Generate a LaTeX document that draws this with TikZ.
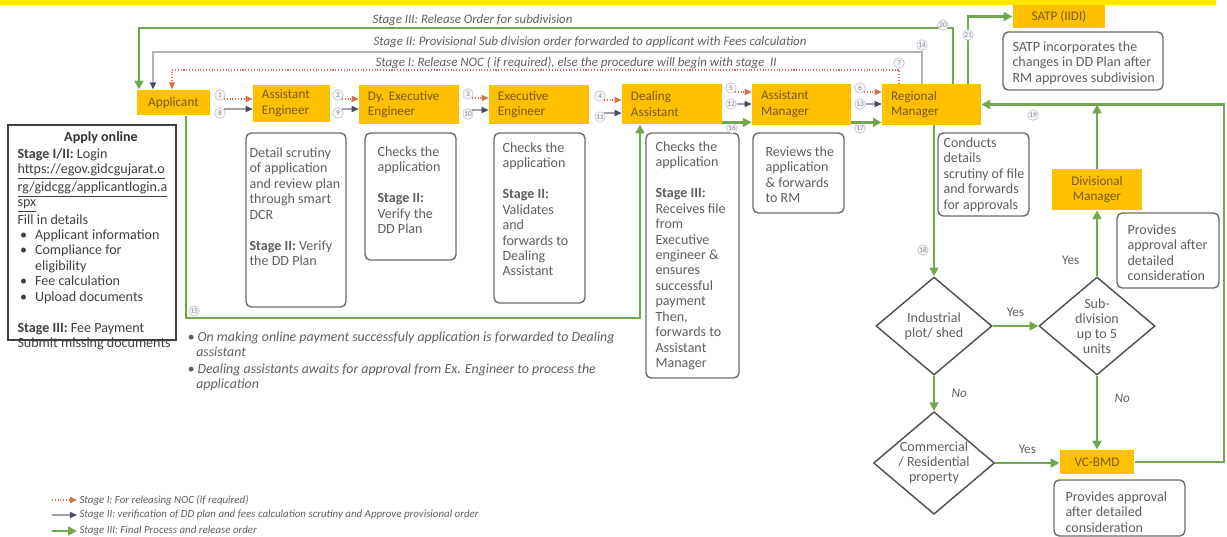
\documentclass[tikz,border=0pt]{standalone}
\usepackage{fontspec}
\setmainfont{Carlito}
\usetikzlibrary{shapes.geometric}
\usetikzlibrary{arrows.meta}

\definecolor{hdyellow}{RGB}{255,230,0}
\definecolor{boxorange}{RGB}{255,192,0}
\definecolor{boxtext}{RGB}{120,88,20}
\definecolor{txtgray}{RGB}{95,95,95}
\definecolor{stgone}{RGB}{214,110,80}
\definecolor{stgtwo}{RGB}{160,160,168}
\definecolor{stgtwotip}{RGB}{80,72,100}
\definecolor{stgthree}{RGB}{112,168,80}

\begin{document}
\begin{tikzpicture}[x=0.02cm, y=-0.02cm, line width=0.6pt,
    orng/.style={fill=boxorange, text=boxtext, inner xsep=5pt, inner ysep=2pt, align=left, font=\fontsize{7.5}{9}\selectfont},
    desc/.style={anchor=north west, inner sep=0pt, align=left, text=txtgray, font=\fontsize{8}{8.8}\selectfont},
    descframe/.style={draw=gray!85!black, rounded corners=3pt, line width=0.8pt},
    ask/.style={diamond, draw=black!70, line width=0.8pt, aspect=1.18, inner sep=0pt, minimum width=2.32cm, minimum height=1.96cm, align=center, text=txtgray, font=\fontsize{8}{8.6}\selectfont},
    num/.style={circle, draw=gray!45, fill=blue!3, line width=0.4pt, inner sep=0pt, minimum size=6pt, text=gray, font=\fontsize{4.2}{4.5}\selectfont},
    lbl/.style={text=txtgray, font=\fontsize{7.5}{9}\selectfont},
    stg/.style={anchor=west, inner sep=0pt, text=txtgray, font=\fontsize{7.35}{8}\selectfont\itshape},
    stone/.style={draw=stgone, densely dotted, -{Triangle[length=4pt, width=3.5pt, color=stgone]}},
    sttwo/.style={draw=stgtwo, -{Triangle[length=4pt, width=3.5pt, color=stgtwotip]}},
    stthree/.style={draw=stgthree, line width=1.5pt, -{Triangle[length=5pt, width=5pt]}}]

    \useasboundingbox (0,0) rectangle (1227,537);
    \fill[hdyellow] (0,0) rectangle (1216,5);

    % draw orange boxes
    \node[orng, align=center, minimum width=1.46cm, minimum height=14.2pt] (app) at (173.5,102.5) {Applicant};
    \node[orng, text width=33.6pt, minimum height=21pt] (ae) at (291.5,103.5) {Assistant\\Engineer};
    \node[orng, text width=46.7pt, minimum height=22.1pt] (dyee) at (409,104.5) {Dy.\ Executive\\Engineer};
    \node[orng, text width=46.7pt, minimum height=22.1pt] (ee) at (539,104.5) {Executive\\Engineer};
    \node[orng, text width=46.7pt, minimum height=22.7pt] (da) at (672,104) {Dealing\\Assistant};
    \node[orng, text width=46.1pt, minimum height=23.2pt] (am) at (801.5,104.5) {Assistant\\Manager};
    \node[orng, text width=46.1pt, minimum height=23.2pt] (rm) at (931.5,104.5) {Regional\\Manager};
    \node[orng, align=center, minimum width=1.84cm, minimum height=13pt] (satp) at (1059,16.5) {SATP (IIDI)};
    \node[orng, align=center, minimum width=1.8cm, minimum height=23.2pt] (dm) at (1097,189.5) {Divisional\\Manager};
    \node[orng, align=center, minimum width=1.48cm, minimum height=13.6pt] (vc) at (1097,462) {VC-BMD};

    % draw decisions
    \node[ask] (ind) at (934,326) {Industrial\\plot/ shed};
    \node[ask] (sub) at (1097,326) {Sub-\\division\\up to 5\\units};
    \node[ask] (com) at (934,463) {Commercial\\/ Residential\\property};

    % draw apply online box
    \draw[draw=black!75, line width=0.9pt] (8,125) rectangle (176,340);
    \node[desc, anchor=center, text=black!80] (applyhead) at (101,138) {\textbf{Apply online}};
    \node[desc, text=black!75] (apply) at (17,148) {\textbf{Stage I/II:} Login\\
        \underline{https://egov.gidcgujarat.o}\\
        \underline{rg/gidcgg/applicantlogin.a}\\
        \underline{spx}\\
        Fill in details\\
        \makebox[10pt][l]{\hspace{1.5pt}\textbullet}Applicant information\\
        \makebox[10pt][l]{\hspace{1.5pt}\textbullet}Compliance for\\
        \hspace*{10pt}eligibility\\
        \makebox[10pt][l]{\hspace{1.5pt}\textbullet}Fee calculation\\
        \makebox[10pt][l]{\hspace{1.5pt}\textbullet}Upload documents\\[8.8pt]
        \textbf{Stage III:} Fee Payment\\
        Submit missing documents};

    % draw descriptions
    \draw[descframe] (246,133) rectangle (346,307);
    \node[desc] (dae) at (249,147) {Detail scrutiny\\of application\\and review plan\\through smart\\DCR\\[8.8pt]\textbf{Stage II:} Verify\\the DD Plan};
    \draw[descframe] (365,133) rectangle (456,260);
    \node[desc] (ddy) at (377,146) {Checks the\\application\\[8.8pt]\textbf{Stage II:}\\Verify the\\DD Plan};
    \draw[descframe] (494,133) rectangle (585,303);
    \node[desc] (dee) at (502,142) {Checks the\\application\\[8.8pt]\textbf{Stage II:}\\Validates\\and\\forwards to\\Dealing\\Assistant};
    \draw[descframe] (646,133) rectangle (739,378);
    \node[desc] (dda) at (655,141) {Checks the\\application\\[8.8pt]\textbf{Stage III:}\\Receives file\\from\\Executive\\engineer \&\\ensures\\successful\\payment\\Then,\\forwards to\\Assistant\\Manager};
    \draw[descframe] (753,133) rectangle (844,213);
    \node[desc] (dam) at (765,146) {Reviews the\\application\\\& forwards\\to RM};
    \draw[descframe] (938,133) rectangle (1029,216);
    \node[desc] (drm) at (943,137) {Conducts\\details\\scrutiny of file\\and forwards\\for approvals};
    \draw[descframe] (1003,32) rectangle (1163,90);
    \node[desc] (dsatp) at (1012,41) {SATP incorporates the\\changes in DD Plan after\\RM approves subdivision};
    \draw[descframe] (1117,213) rectangle (1219,288);
    \node[desc] (ddm) at (1127,224) {Provides\\approval after\\detailed\\consideration};
    \draw[descframe] (1054,480) rectangle (1185,536);
    \node[desc] (dvc) at (1065,491) {Provides approval\\after detailed\\consideration};

    % draw forward arrows
    \node[num] (n1) at (220,95) {1};
    \node[num] (n8) at (220,113) {8};
    \draw[stone] (n1.south east) -- (n1.south east -| ae.west);
    \draw[sttwo] (n8.north east) -- (n8.north east -| ae.west);
    \node[num] (n2) at (338,95) {2};
    \node[num] (n9) at (338,113) {9};
    \draw[stone] (n2.south east) -- (n2.south east -| dyee.west);
    \draw[sttwo] (n9.north east) -- (n9.north east -| dyee.west);
    \node[num] (n3) at (468,94) {3};
    \node[num] (n10) at (468,114) {10};
    \draw[stone] (n3.south east) -- (n3.south east -| ee.west);
    \draw[sttwo] (n10.north east) -- (n10.north east -| ee.west);
    \node[num] (n4) at (600,96) {4};
    \node[num] (n11) at (600,117) {11};
    \draw[stone] (n4.south east) -- (n4.south east -| da.west);
    \draw[sttwo] (n11.north east) -- (n11.north east -| da.west);
    \node[num] (n5) at (731,88) {5};
    \node[num] (n12) at (731,104) {12};
    \node[num] (n16) at (732,128) {16};
    \draw[stone] (n5.south east) -- (n5.south east -| am.west);
    \draw[sttwo] (n12.east) -- (n12.east -| am.west);
    \draw[stthree] (da.east |- n16.north) -- (n16.north -| am.west);
    \node[num] (n6) at (860,88) {6};
    \node[num] (n13) at (860,104) {13};
    \node[num] (n17) at (860,128) {17};
    \draw[stone] (n6.south east) -- (n6.south east -| rm.west);
    \draw[sttwo] (n13.east) -- (n13.east -| rm.west);
    \draw[stthree] (am.east |- n17.north) -- (n17.north -| rm.west);

    % draw return lines over the top
    \coordinate (s1r) at (899,70);
    \coordinate (s1l) at (172,70);
    \draw[stone] (s1r |- rm.north) -- (s1r) -- (s1l) -- (s1l |- app.north);
    \coordinate (s2r) at (922,52);
    \coordinate (s2l) at (153,52);
    \draw[sttwo, draw=stgtwo!80, line width=1pt] (s2r |- rm.north) -- (s2r) -- (s2l) -- (s2l |- app.north);
    \coordinate (s3r) at (953,28);
    \coordinate (s3l) at (139,28);
    \draw[stthree] (s3r |- rm.north) -- (s3r) -- (s3l) -- (s3l |- app.north);
    \coordinate (s4) at (968,16.5);
    \draw[stthree] (s4 |- rm.north) -- (s4) -- (satp.west);
    \node[num] (n7) at (899,63) {7};
    \node[num] (n14) at (922,45) {14};
    \node[num] (n20) at (943,25) {20};
    \node[num] (n21) at (968,35) {21};
    \node[stg] (t3) at (372,20) {Stage III: Release Order for subdivision};
    \node[stg] (t2) at (373,42) {Stage II: Provisional Sub division order forwarded to applicant with Fees calculation};
    \node[stg] (t1) at (375,63) {Stage I: Release NOC ( if required), else the procedure will begin with stage\ \ II};

    % draw payment path to dealing assistant
    \coordinate (g1) at (186,318);
    \coordinate (g2) at (640,318);
    \draw[stthree] (g1 |- app.south) -- (g1) -- (g2) -- (g2 |- da.south);
    \node[num] (n15) at (194,311) {15};

    % draw approval flow
    \draw[stthree] (ind.north |- rm.south) -- (ind.north);
    \node[num] (n18) at (923,250) {18};
    \draw[stthree] (ind.east) -- (sub.west) node[lbl, midway, above=1pt] {Yes};
    \draw[stthree] (sub.north) -- (dm.south) node[lbl, pos=0.25, left=6pt] {Yes};
    \draw[stthree] (ind.south) -- (com.north) node[lbl, midway, right=6pt] {\itshape No};
    \draw[stthree] (sub.south) -- (vc.north) node[lbl, pos=0.3, right=6pt] {\itshape No};
    \draw[stthree] (com.east) -- (com.east -| vc.west) node[lbl, midway, above=1pt] {Yes};
    \coordinate (r1) at (1224,462);
    \coordinate (r2) at (1224,104.5);
    \draw[stthree] (vc.east) -- (r1) -- (r2) -- (r2 -| rm.east);
    \draw[stthree] (dm.north) -- (dm.north |- r2);
    \node[num] (n19) at (1033,115) {19};

    % draw notes
    \node[desc, font=\fontsize{7.9}{9}\selectfont\itshape] (note1) at (187,331) {\textbullet\ On making online payment successfuly application is forwarded to Dealing\\\hspace*{5pt}assistant};
    \node[desc, font=\fontsize{7.9}{9}\selectfont\itshape] (note2) at (187,363) {\textbullet\ Dealing assistants awaits for approval from Ex. Engineer to process the\\\hspace*{5pt}application};

    % draw legend
    \coordinate (lg1a) at (52,500);
    \coordinate (lg1b) at (77,500);
    \coordinate (lg2a) at (52,515);
    \coordinate (lg2b) at (77,515);
    \coordinate (lg3a) at (52,531);
    \coordinate (lg3b) at (77,531);
    \draw[stone] (lg1a) -- (lg1b);
    \draw[sttwo] (lg2a) -- (lg2b);
    \draw[stthree] (lg3a) -- (lg3b);
    \node[stg, anchor=west, font=\fontsize{6.2}{7}\selectfont\itshape] (lg1) at (79,500) {Stage I: For releasing NOC (if required)};
    \node[stg, anchor=west, font=\fontsize{6.2}{7}\selectfont\itshape] (lg2) at (79,515) {Stage II: verification of DD plan and fees calculation scrutiny and Approve provisional order};
    \node[stg, anchor=west, font=\fontsize{6.2}{7}\selectfont\itshape] (lg3) at (79,531) {Stage III: Final Process and release order};
\end{tikzpicture}
\end{document}
